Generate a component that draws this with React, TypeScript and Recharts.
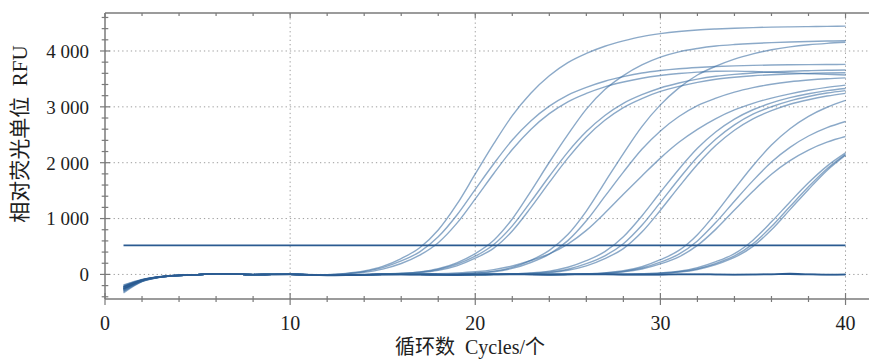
import { LineChart, Line, XAxis, YAxis, ReferenceLine } from 'recharts'

// qPCR amplification curves, RFU per cycle
const cycles = [1, 2, 3, 4, 5, 6, 7, 8, 9, 10, 11, 12, 13, 14, 15, 16, 17, 18, 19, 20, 21, 22, 23, 24, 25, 26, 27, 28, 29, 30, 31, 32, 33, 34, 35, 36, 37, 38, 39, 40]

const curveA1 = [-280, -115, -45, -18, -5, 12, 8, -3, 0, 2, -4, -3, 18, 62, 144, 284, 477, 795, 1252, 1798, 2340, 2842, 3243, 3556, 3792, 3956, 4085, 4180, 4258, 4311, 4349, 4376, 4394, 4408, 4419, 4427, 4432, 4436, 4440, 4445]
const curveA2 = [-240, -105, -42, -16, -4, 12, 8, -3, 0, 2, -1, -5, 13, 51, 122, 241, 404, 673, 1060, 1523, 1982, 2406, 2747, 3012, 3211, 3350, 3459, 3540, 3606, 3651, 3683, 3705, 3721, 3733, 3742, 3749, 3753, 3756, 3758, 3760]
const curveA3 = [-310, -125, -48, -19, -6, 11, 7, -3, 0, 2, -3, -8, 7, 38, 96, 195, 344, 567, 913, 1352, 1807, 2237, 2596, 2878, 3091, 3240, 3358, 3444, 3513, 3562, 3596, 3621, 3638, 3640, 3632, 3620, 3608, 3595, 3582, 3570]
const curveB1 = [-200, -95, -40, -15, -4, 13, 9, -2, 1, 3, -5, -14, -11, -2, 7, 20, 45, 101, 207, 373, 612, 993, 1488, 2008, 2503, 2960, 3310, 3560, 3750, 3890, 3985, 4045, 4088, 4115, 4135, 4150, 4162, 4171, 4178, 4183]
const curveB2 = [-260, -112, -46, -18, -5, 12, 8, -3, 0, 2, -5, -15, -12, -2, 6, 17, 39, 88, 182, 326, 536, 869, 1302, 1757, 2190, 2557, 2845, 3063, 3217, 3338, 3426, 3496, 3547, 3582, 3607, 3625, 3638, 3647, 3655, 3660]
const curveB3 = [-330, -130, -50, -20, -6, 11, 7, -4, 0, 1, -6, -16, -12, -5, 5, 14, 32, 72, 154, 290, 471, 778, 1195, 1647, 2082, 2462, 2760, 2987, 3149, 3276, 3367, 3439, 3493, 3530, 3557, 3575, 3588, 3597, 3606, 3611]
const curveC1 = [-230, -105, -44, -17, -5, 12, 8, -3, 0, 2, -5, -15, -12, -5, 0, 0, 2, 3, 11, 26, 58, 126, 252, 431, 714, 1134, 1649, 2163, 2646, 3035, 3339, 3570, 3728, 3854, 3948, 4022, 4074, 4111, 4137, 4156]
const curveC2 = [-270, -118, -47, -18, -5, 12, 8, -3, 0, 2, -5, -15, -12, -5, 0, 0, 1, 3, 9, 22, 49, 107, 213, 364, 605, 960, 1396, 1831, 2240, 2569, 2827, 3023, 3156, 3263, 3343, 3405, 3449, 3480, 3503, 3519]
const curveC3 = [-190, -90, -38, -14, -3, 13, 9, -2, 1, 3, -4, -14, -11, -4, 1, 4, 6, 12, 25, 47, 86, 150, 249, 369, 544, 788, 1098, 1434, 1762, 2082, 2365, 2597, 2790, 2944, 3062, 3157, 3233, 3296, 3348, 3389]
const curveD1 = [-250, -108, -45, -18, -5, 12, 8, -3, 0, 2, -5, -15, -12, -5, 0, 0, 0, -2, -3, 0, 3, 11, 27, 60, 128, 246, 407, 674, 1047, 1471, 1884, 2257, 2553, 2780, 2948, 3071, 3164, 3235, 3290, 3328]
const curveD2 = [-290, -120, -47, -19, -6, 11, 7, -4, 0, 2, -6, -16, -13, -6, -1, 0, 0, -3, -4, -2, 3, 8, 20, 43, 93, 192, 333, 550, 880, 1290, 1708, 2102, 2425, 2678, 2870, 3002, 3107, 3185, 3247, 3291]
const curveD3 = [-215, -100, -42, -16, -4, 13, 8, -3, 1, 2, -5, -14, -12, -5, 0, 0, 1, -2, -4, -2, 3, 5, 14, 33, 74, 154, 284, 463, 758, 1149, 1567, 1967, 2311, 2581, 2785, 2931, 3046, 3128, 3193, 3242]
const curveE1 = [-260, -110, -45, -18, -5, 12, 8, -3, 0, 2, -5, -15, -12, -5, 0, 0, 0, -3, -5, -3, 0, 2, 0, 2, 4, 12, 28, 65, 138, 263, 430, 712, 1099, 1529, 1946, 2316, 2608, 2830, 2993, 3116]
const curveE2 = [-235, -104, -43, -17, -5, 12, 8, -3, 0, 2, -5, -15, -12, -5, 0, 0, 0, -3, -5, -3, 0, 2, 0, -2, 3, 10, 24, 53, 114, 219, 363, 600, 933, 1311, 1679, 2012, 2275, 2478, 2627, 2737]
const curveE3 = [-300, -122, -48, -19, -6, 11, 7, -4, 0, 1, -6, -16, -13, -6, -1, 0, 0, -3, -5, -3, 0, 2, 0, -2, 3, 8, 20, 45, 97, 188, 313, 519, 811, 1152, 1488, 1794, 2038, 2227, 2368, 2469]
const curveF1 = [-245, -108, -44, -18, -5, 12, 8, -3, 0, 2, -5, -15, -12, -5, 0, 0, 0, -3, -5, -3, 0, 2, 0, -2, 0, 3, 3, 4, 11, 25, 57, 121, 228, 371, 613, 941, 1298, 1640, 1939, 2175]
const curveF2 = [-275, -116, -46, -18, -5, 12, 8, -3, 0, 2, -5, -15, -12, -5, 0, 0, 0, -3, -5, -3, 0, 2, 0, -2, 0, 3, 2, 3, 9, 21, 47, 102, 198, 331, 547, 856, 1216, 1570, 1893, 2150]
const curveF3 = [-220, -102, -43, -17, -4, 12, 8, -3, 0, 2, -5, -15, -12, -5, 0, 0, 0, -3, -5, -3, 0, 2, 0, -2, 0, 3, 2, 2, 7, 18, 41, 89, 177, 303, 503, 798, 1160, 1522, 1862, 2136]

// no-template controls, stay on the baseline
const negative1 = [-260, -112, -46, -18, -5, 12, 8, -3, 0, 2, -5, -15, -12, -5, 0, 0, 0, -3, -5, -3, 0, 2, 0, -2, 0, 3, 2, 0, -2, 0, 2, 3, 0, -3, 0, 5, 15, 5, -2, 0]
const negative2 = [-225, -100, -42, -16, -4, 10, 6, -4, -2, 0, -6, -18, -14, -6, -2, -3, -5, -6, -4, -2, -1, 0, -3, -5, -3, 0, -2, -5, -6, -4, -1, 0, -3, -5, -2, 0, 4, -2, -4, -3]

const threshold = 520

const xTicks = [0, 2, 4, 6, 8, 10, 12, 14, 16, 18, 20, 22, 24, 26, 28, 30, 32, 34, 36, 38, 40]
const yTicks = [-400, -200, 0, 200, 400, 600, 800, 1000, 1200, 1400, 1600, 1800, 2000, 2200, 2400, 2600, 2800, 3000, 3200, 3400, 3600, 3800, 4000, 4200, 4400, 4600]
const xGrid = [10, 20, 30, 40]
const yGrid = [0, 1000, 2000, 3000, 4000]

const amplified = [curveA1, curveA2, curveA3, curveB1, curveB2, curveB3, curveC1, curveC2, curveC3, curveD1, curveD2, curveD3, curveE1, curveE2, curveE3, curveF1, curveF2, curveF3]
const negatives = [negative1, negative2]

const data = cycles.map((c, i) => {
  const row: Record<string, number> = { cycle: c }
  amplified.forEach((s, j) => { row['a' + j] = s[i] })
  negatives.forEach((s, j) => { row['n' + j] = s[i] })
  return row
})

const axisColor = '#7a7a7a'
const textColor = '#1e1e1e'
const serif = "'Liberation Serif', 'Times New Roman', 'DejaVu Serif', 'Noto Sans CJK SC', serif"

const fmtY = (v: number) => (v === 0 ? '0' : `${v / 1000} 000`)

function LeftTick({ x, y, payload }: any) {
  const v = payload.value
  const major = v % 1000 === 0
  const len = major ? 5 : 3.3
  return (
    <g>
      <line x1={x - len} x2={x + len} y1={y} y2={y} stroke={axisColor} strokeWidth={1.2} />
      {major && (
        <text x={x - 16} y={y} dy="0.36em" textAnchor="end" style={{ fontFamily: serif }} fontSize={19} fill={textColor}>
          {fmtY(v)}
        </text>
      )}
    </g>
  )
}

function BottomTick({ x, y, payload }: any) {
  const v = payload.value
  const major = v % 10 === 0
  const len = major ? 6 : 3
  return (
    <g>
      <line x1={x} x2={x} y1={y - len} y2={y + len} stroke={axisColor} strokeWidth={1.2} />
      {major && (
        <text x={x} y={y + 24} dy="0.36em" textAnchor="middle" style={{ fontFamily: serif }} fontSize={20} fill={textColor}>
          {v}
        </text>
      )}
    </g>
  )
}

function TopTick({ x, y, payload }: any) {
  const major = payload.value % 10 === 0
  return <line x1={x} x2={x} y1={y} y2={y + (major ? 5 : 3)} stroke={axisColor} strokeWidth={1.2} />
}

export default function App() {
  return (
    <div style={{ position: 'relative', width: 869, height: 352 }}>
      <LineChart width={869} height={352} data={data} margin={{ top: 0, right: 0, bottom: 0, left: 0 }}>
        <XAxis
          xAxisId="top"
          orientation="top"
          type="number"
          dataKey="cycle"
          domain={[0, 41.7]}
          allowDataOverflow
          ticks={xTicks}
          interval={0}
          height={5}
          tickSize={0}
          tickMargin={0}
          tickLine={false}
          tick={<TopTick />}
          axisLine={{ stroke: axisColor, strokeWidth: 1.5 }}
        />
        <XAxis
          type="number"
          dataKey="cycle"
          domain={[0, 41.7]}
          allowDataOverflow
          ticks={xTicks}
          interval={0}
          height={61}
          tickSize={0}
          tickMargin={0}
          tickLine={false}
          tick={<BottomTick />}
          axisLine={{ stroke: axisColor, strokeWidth: 1.5 }}
        />
        <YAxis
          type="number"
          domain={[-440, 4680]}
          allowDataOverflow
          ticks={yTicks}
          interval={0}
          width={97}
          tickSize={0}
          tickMargin={0}
          tickLine={false}
          tick={<LeftTick />}
          axisLine={{ stroke: axisColor, strokeWidth: 1.5 }}
        />
        {yGrid.map((v) => (
          <ReferenceLine key={'gy' + v} y={v} stroke="#9c9c9c" strokeDasharray="1.3 3" strokeWidth={1} />
        ))}
        {xGrid.map((v) => (
          <ReferenceLine key={'gx' + v} x={v} stroke="#9c9c9c" strokeDasharray="1.3 3" strokeWidth={1} />
        ))}
        {amplified.map((_, j) => (
          <Line
            key={'a' + j}
            type="monotone"
            dataKey={'a' + j}
            stroke="#3d6fa3"
            strokeOpacity={0.6}
            strokeWidth={1.4}
            dot={false}
            isAnimationActive={false}
          />
        ))}
        {negatives.map((_, j) => (
          <Line
            key={'n' + j}
            type="monotone"
            dataKey={'n' + j}
            stroke="#2b5b91"
            strokeWidth={1.5}
            dot={false}
            isAnimationActive={false}
          />
        ))}
        <ReferenceLine
          segment={[{ x: 1, y: threshold }, { x: 40, y: threshold }]}
          stroke="#2b5b91"
          strokeWidth={1.6}
        />
      </LineChart>
      <div
        style={{
          position: 'absolute',
          left: 462,
          top: 339,
          transform: 'translate(-50%, -50%)',
          whiteSpace: 'nowrap',
          fontFamily: serif,
          fontSize: 20,
          lineHeight: '22px',
          color: textColor,
        }}
      >
        循环数&nbsp;&nbsp;Cycles/个
      </div>
      <div
        style={{
          position: 'absolute',
          left: 12,
          top: 126,
          transform: 'translate(-50%, -50%) rotate(-90deg)',
          whiteSpace: 'nowrap',
          fontFamily: serif,
          fontSize: 21,
          lineHeight: '22px',
          color: textColor,
        }}
      >
        相对荧光单位&nbsp;&nbsp;RFU
      </div>
    </div>
  )
}
